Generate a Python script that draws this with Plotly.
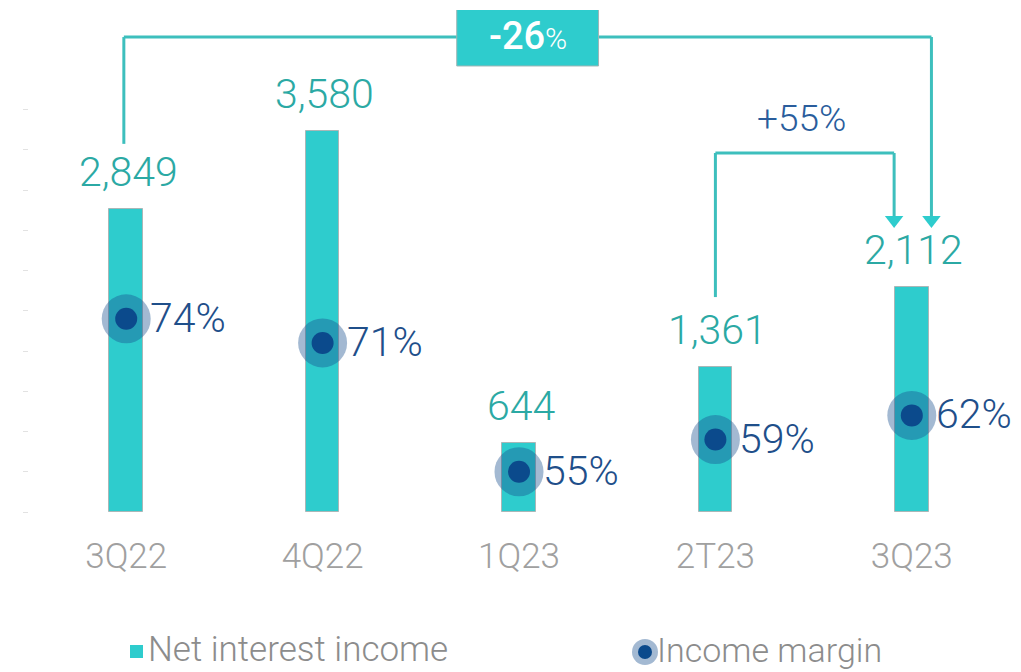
import plotly.graph_objects as go

categories = ["3Q22", "4Q22", "1Q23", "2T23", "3Q23"]
net_interest_income = [2849, 3580, 644, 1361, 2112]
income_margin = [74, 71, 55, 59, 62]
value_labels = ["2,849", "3,580", "644", "1,361", "2,112"]
margin_ticks = [50, 55, 60, 65, 70, 75, 80, 85, 90, 95, 100]

BAR = "#2ECCCD"
LINE = "#3DBFBD"
VAL = "#2BA9A4"
NAVY = "#0B4A8C"
TXT_BLUE = "#1F4F8A"
GREY = "#8C8C8C"
FONT = "Roboto"

x = list(range(len(categories)))
fig = go.Figure()

fig.add_trace(go.Bar(
    x=x, y=net_interest_income, width=0.172,
    marker=dict(color=BAR, line=dict(color="#A9B7B7", width=1)),
    showlegend=False, hoverinfo="skip"))

# halo + inner dot for margin
fig.add_trace(go.Scatter(
    x=x, y=income_margin, yaxis="y2", mode="markers",
    marker=dict(size=49, color="rgba(26,79,142,0.40)", line=dict(width=0)),
    showlegend=False, hoverinfo="skip"))
fig.add_trace(go.Scatter(
    x=x, y=income_margin, yaxis="y2", mode="markers",
    marker=dict(size=22, color=NAVY, line=dict(width=0)),
    showlegend=False, hoverinfo="skip"))

ann = []
for i, (v, lab) in enumerate(zip(net_interest_income, value_labels)):
    ann.append(dict(x=i, y=v, xref="x", yref="y", text=lab, showarrow=False,
                    yanchor="middle", yshift=37, xshift=2,
                    font=dict(family=FONT, size=41, color=VAL, weight=300)))
for i, m in enumerate(income_margin):
    ann.append(dict(x=i, y=m, xref="x", yref="y2", text=f"{m}%", showarrow=False,
                    xanchor="left", yanchor="middle", xshift=22, yshift=1,
                    font=dict(family=FONT, size=41, color=TXT_BLUE, weight=300)))

# bracket -26%
y_top = 4464
shapes = []
line = dict(color=LINE, width=3)
shapes.append(dict(type="line", xref="x", yref="y", x0=-0.012, x1=-0.012, y0=3460, y1=y_top, line=line))
shapes.append(dict(type="line", xref="x", yref="y", x0=-0.012, x1=4.10, y0=y_top, y1=y_top, line=line))
shapes.append(dict(type="line", xref="x", yref="y", x0=4.10, x1=4.10, y0=y_top, y1=2780, line=line))
# bracket +55%
y_mid = 3374
shapes.append(dict(type="line", xref="x", yref="y", x0=3.0, x1=3.0, y0=2020, y1=y_mid, line=line))
shapes.append(dict(type="line", xref="x", yref="y", x0=3.0, x1=3.91, y0=y_mid, y1=y_mid, line=line))
shapes.append(dict(type="line", xref="x", yref="y", x0=3.91, x1=3.91, y0=y_mid, y1=2780, line=line))

fig.add_trace(go.Scatter(
    x=[3.91, 4.10], y=[2745, 2745], mode="markers",
    marker=dict(symbol="triangle-down", size=16, color=BAR, line=dict(width=0)),
    showlegend=False, hoverinfo="skip"))

# -26% box
shapes.append(dict(type="rect", xref="x", yref="y", x0=1.683, x1=2.405, y0=4192, y1=4746,
                   fillcolor=BAR, line=dict(color="#9FB5B5", width=1)))
ann.append(dict(x=2.045, y=4470, xref="x", yref="y", showarrow=False,
                text="-26<span style='font-size:30px;font-weight:300'>%</span>",
                font=dict(family=FONT, size=38, color="white", weight=500)))
ann.append(dict(x=3.44, y=3700, xref="x", yref="y", showarrow=False, text="+55%",
                font=dict(family=FONT, size=37, color="#2A5D9C", weight=300)))

# manual legend
shapes.append(dict(type="rect", xref="paper", yref="paper",
                   x0=(130 - 28) / 982, x1=(143 - 28) / 982,
                   y0=-(645 - 512) / 502, y1=-(658 - 512) / 502,
                   fillcolor=BAR, line=dict(width=0)))
ann.append(dict(x=(146 - 28) / 982, y=-(672 - 512) / 502, xref="paper", yref="paper",
                xanchor="left", yanchor="bottom", showarrow=False, text="Net interest income",
                font=dict(family=FONT, size=35, color=GREY, weight=300)))
shapes.append(dict(type="circle", xref="paper", yref="paper",
                   x0=(632 - 28) / 982, x1=(658 - 28) / 982,
                   y0=-(639 - 512) / 502, y1=-(665 - 512) / 502,
                   fillcolor="rgba(26,79,142,0.40)", line=dict(width=0)))
shapes.append(dict(type="circle", xref="paper", yref="paper",
                   x0=(638 - 28) / 982, x1=(652 - 28) / 982,
                   y0=-(645 - 512) / 502, y1=-(659 - 512) / 502,
                   fillcolor=NAVY, line=dict(width=0)))
ann.append(dict(x=(655 - 28) / 982, y=-(672 - 512) / 502, xref="paper", yref="paper",
                xanchor="left", yanchor="bottom", showarrow=False, text="Income margin",
                font=dict(family=FONT, size=34, color=GREY, weight=300)))

fig.update_layout(
    width=1021, height=672,
    margin=dict(l=28, r=11, t=10, b=160),
    paper_bgcolor="white", plot_bgcolor="white",
    xaxis=dict(range=[-0.5, 4.5], tickvals=x, ticktext=categories, showgrid=False,
               zeroline=False, showline=False, ticks="", ticklabelstandoff=20,
               tickfont=dict(family=FONT, size=35, color="#A0A0A0", weight=300)),
    yaxis=dict(range=[0, 502 / 0.1064], showgrid=False, zeroline=False,
               showticklabels=False, ticks=""),
    yaxis2=dict(overlaying="y", side="left", range=[50, 50 + 502 / 8.05],
                tickvals=margin_ticks, showticklabels=False, ticks="outside",
                ticklen=5, tickcolor="#E2E2E2", tickwidth=1, showgrid=False,
                zeroline=False, showline=False, position=0, anchor="free"),
    shapes=shapes, annotations=ann, bargap=0,
)

fig.write_html("out.html", config={"displayModeBar": False},
               post_script="document.body.style.margin='0';document.body.style.padding='0';")
